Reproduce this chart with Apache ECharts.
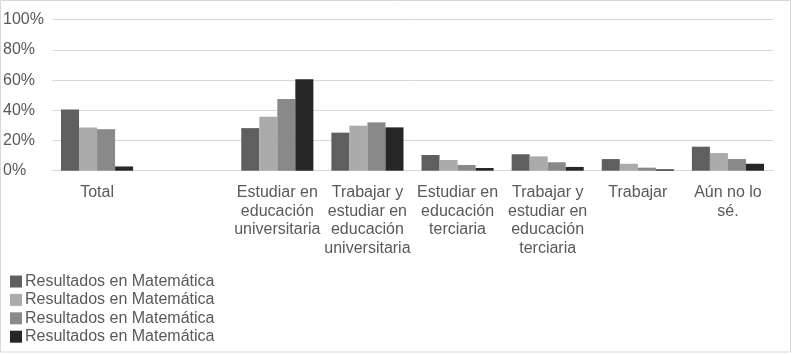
<!DOCTYPE html>
<html>
<head>
<meta charset="utf-8">
<script src="https://cdn.jsdelivr.net/npm/echarts@6/dist/echarts.min.js"></script>
<style>
  html, body { margin: 0; padding: 0; background: #fff; }
  #chart { width: 793px; height: 354px; }
</style>
</head>
<body>
<div id="chart"></div>
<script>
// datos (porcentajes)
var categories = [
  'Total',
  '',
  'Estudiar en\neducación\nuniversitaria',
  'Trabajar y\nestudiar en\neducación\nuniversitaria',
  'Estudiar en\neducación\nterciaria',
  'Trabajar y\nestudiar en\neducación\nterciaria',
  'Trabajar',
  'Aún no lo\nsé.'
];
var serie1 = [40.5, null, 28.2, 25.2, 10.4, 10.9, 7.7, 15.9];
var serie2 = [28.6, null, 35.8, 29.8, 7.1, 9.5, 4.6, 11.7];
var serie3 = [27.5, null, 47.5, 32.0, 3.8, 5.6, 2.0, 7.7];
var serie4 = [2.8, null, 60.5, 28.7, 1.8, 2.5, 0.9, 4.6];
var seriesLabels = [
  'Resultados en Matemática',
  'Resultados en Matemática',
  'Resultados en Matemática',
  'Resultados en Matemática'
];
var yTicks = [0, 20, 40, 60, 80, 100];

var colors = ['#5f5f5f', '#ababab', '#898989', '#262626'];
var values = [serie1, serie2, serie3, serie4];
var ids = ['s0', 's1', 's2', 's3'];

var chart = echarts.init(document.getElementById('chart'));

chart.setOption({
  backgroundColor: '#fff',
  animation: false,
  color: colors,
  textStyle: {
    fontFamily: '"Liberation Sans", Arial, sans-serif'
  },
  graphic: [{
    type: 'rect',
    shape: { x: 0.5, y: 0.5, width: 790, height: 351.5 },
    style: { fill: 'none', stroke: '#d9d9d9', lineWidth: 1 },
    silent: true
  }],
  grid: {
    left: 52,
    right: 20,
    top: 19.7,
    bottom: 183.3
  },
  legend: {
    orient: 'vertical',
    left: 5,
    top: 268.5,
    itemWidth: 12,
    itemHeight: 12,
    itemGap: 2.4,
    icon: 'rect',
    data: ids,
    formatter: function (name) {
      return seriesLabels[ids.indexOf(name)];
    },
    textStyle: {
      color: '#595959',
      fontSize: 16,
      lineHeight: 16,
      padding: [0, 0, 0, -2]
    }
  },
  xAxis: [{
    type: 'category',
    data: categories,
    axisLine: {
      lineStyle: { color: '#d9d9d9' }
    },
    axisTick: { show: false },
    axisLabel: {
      interval: 0,
      margin: 12.5,
      color: '#595959',
      fontSize: 16,
      lineHeight: 18.6
    }
  }],
  yAxis: [{
    type: 'value',
    min: yTicks[0],
    max: yTicks[yTicks.length - 1],
    interval: 20,
    axisLine: { show: false },
    axisTick: { show: false },
    axisLabel: {
      formatter: '{value}%',
      color: '#595959',
      fontSize: 16,
      align: 'left',
      margin: 49
    },
    splitLine: {
      lineStyle: { color: '#d9d9d9', width: 1 }
    }
  }],
  series: values.map(function (v, i) {
    return {
      id: ids[i],
      name: ids[i],
      type: 'bar',
      data: v,
      barGap: '0%',
      barCategoryGap: '20%',
      itemStyle: { color: colors[i] }
    };
  })
});
</script>
</body>
</html>
